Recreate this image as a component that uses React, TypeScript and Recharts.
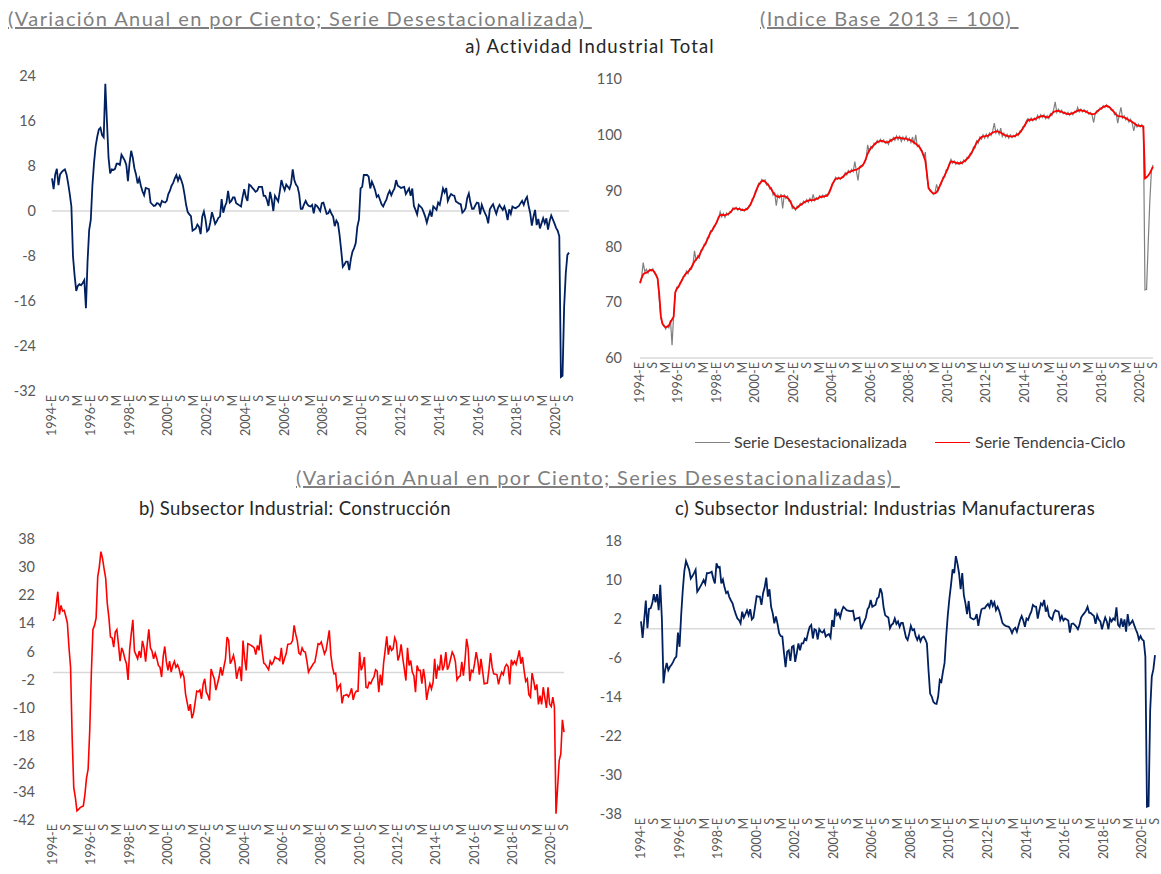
import React from 'react';
import { LineChart, Line, XAxis, YAxis, ReferenceLine } from 'recharts';

// Meses (E = enero ... D = diciembre), serie mensual desde 1994-E hasta 2020-S
const MESES = ['E', 'F', 'M', 'A', 'M', 'J', 'J', 'A', 'S', 'O', 'N', 'D'];
const ANIO_INICIO = 1994;

// a) Actividad Industrial Total, variación anual (%)
const actividadVar = [
  5.8, 3.9, 6.5, 7.5, 4.6, 6.5, 6.9, 7.2, 7.4, 6.5, 4.9, 3.0, 0.8, -8.1, -11.5, -14.2, -13.3, -13.0, -13.2, -12.8,
  -12.3, -17.3, -9.0, -3.4, -1.6, 4.5, 8.5, 11.5, 13.2, 14.5, 14.8, 13.5, 13.1, 22.6, 16.0, 9.5, 6.7, 7.4, 7.3, 7.5,
  8.4, 8.4, 8.2, 10.0, 9.5, 9.0, 8.2, 5.3, 8.5, 10.7, 9.5, 7.6, 6.5, 4.9, 5.8, 4.5, 3.5, 2.8, 4.1, 4.0,
  3.9, 1.5, 1.2, 0.9, 1.0, 1.4, 1.3, 0.9, 1.8, 1.6, 1.5, 1.8, 3.0, 3.6, 4.5, 5.0, 5.8, 6.4, 5.4, 6.2,
  5.5, 4.6, 3.0, 1.1, -0.2, -0.6, -0.9, -3.5, -3.3, -3.1, -2.4, -2.8, -4.1, -1.0, -0.1, -1.5, -3.6, -3.3, -2.0, -0.2,
  -1.2, -2.3, -1.8, -1.2, -1.0, 2.1, -0.3, 0.8, 1.5, 3.6, 1.5, 1.8, 2.4, 2.4, 1.4, 1.2, 1.0, 0.8, 2.5, 3.9,
  2.5, 1.8, 4.7, 4.5, 4.1, 3.8, 3.4, 3.6, 4.3, 4.3, 4.3, 2.7, 2.7, 2.0, 0.9, 3.4, 2.0, 0.0, 2.7, 2.2,
  1.7, 3.5, 5.5, 4.5, 3.7, 4.7, 4.3, 3.9, 4.9, 7.4, 5.5, 4.7, 4.3, 3.0, 0.4, 0.4, 1.2, 1.8, 1.2, 0.9,
  0.8, 1.1, -0.4, 1.1, 0.9, 0.5, 0.0, 1.4, 1.5, 0.5, -0.5, -0.4, 0.2, -0.5, -1.0, -2.7, -1.7, -2.2, -4.3, -7.0,
  -9.9, -9.5, -9.0, -9.0, -10.5, -8.5, -7.2, -6.6, -5.7, -2.8, -1.5, 4.0, 4.3, 6.4, 6.4, 6.4, 6.1, 4.0, 5.2, 4.5,
  3.7, 2.5, 2.8, 2.0, 1.2, 0.8, 1.5, 2.0, 3.0, 3.6, 2.8, 3.5, 4.0, 5.5, 4.5, 4.3, 4.1, 4.2, 4.3, 3.0,
  3.5, 4.0, 2.7, 4.0, 0.9, 0.2, -0.6, 1.1, 0.8, 0.5, -0.2, -1.0, -2.1, -1.0, -0.1, -1.0, 0.8, 0.5, 0.2, 1.5,
  1.1, 2.5, 4.0, 3.3, 4.1, 1.8, 2.5, 3.0, 2.8, 2.7, 1.7, 1.5, 1.3, 1.2, -0.3, 0.0, 0.5, 2.3, 3.1, 1.5,
  0.4, 0.4, 1.0, 1.5, 1.4, -0.6, 1.1, 0.3, -0.4, -1.0, -2.2, 0.3, 0.8, 1.2, 0.3, -0.5, 0.5, 1.1, 0.6, 0.2,
  0.8, -0.1, -1.6, 0.3, -0.5, 0.8, 0.6, 0.5, 0.7, 0.9, 1.4, 1.8, 1.1, 2.0, 2.5, 0.9, -0.4, -2.6, -1.0, 0.2,
  -2.5, -1.4, -3.1, -2.2, -1.3, -2.2, -1.3, -3.3, -1.8, -0.8, -1.5, -2.2, -3.0, -3.5, -4.5, -29.5, -29.3, -17.0, -11.1, -7.8,
  -7.4,
];

// Índice base 2013 = 100, serie desestacionalizada
const indiceDesest = [
  73.6, 74.5, 77.1, 75.5, 75.9, 75.2, 75.9, 75.6, 76.0, 75.2, 74.8, 74.3, 70.6, 67.2, 66.0, 65.9, 65.2, 65.8, 65.4, 66.8,
  62.3, 67.8, 71.6, 72.7, 72.6, 73.5, 73.7, 74.6, 74.7, 75.6, 75.1, 76.0, 75.9, 76.6, 79.2, 77.4, 78.3, 77.9, 79.3, 79.4,
  80.4, 80.3, 81.5, 81.6, 82.8, 82.7, 83.6, 83.7, 84.6, 85.0, 86.2, 85.3, 85.9, 85.2, 86.0, 85.6, 86.2, 86.1, 86.9, 86.6,
  87.0, 86.5, 86.9, 86.4, 86.7, 86.3, 86.8, 86.6, 87.3, 87.4, 88.5, 88.7, 89.9, 90.2, 91.3, 91.2, 92.0, 91.6, 91.9, 91.0,
  91.2, 90.3, 90.5, 89.2, 89.6, 87.3, 89.2, 88.7, 89.4, 86.8, 89.3, 88.6, 89.0, 88.1, 88.2, 86.8, 87.1, 86.5, 87.2, 87.0,
  87.7, 87.4, 88.1, 87.8, 88.4, 87.9, 88.6, 88.1, 89.3, 88.2, 88.7, 88.4, 89.1, 88.7, 89.2, 88.8, 89.3, 89.0, 89.9, 90.5,
  91.3, 91.5, 92.4, 92.0, 92.4, 92.0, 92.5, 92.4, 93.2, 92.8, 93.6, 93.2, 93.8, 93.4, 95.2, 93.5, 91.8, 94.3, 94.5, 94.4,
  95.3, 95.5, 98.2, 96.9, 97.9, 97.6, 98.5, 98.3, 99.0, 98.6, 99.2, 98.7, 99.1, 98.5, 98.9, 98.3, 99.2, 98.8, 99.5, 99.0,
  99.8, 99.1, 99.7, 98.8, 99.6, 99.0, 99.7, 98.9, 99.4, 98.6, 99.6, 98.3, 100.0, 97.9, 98.2, 97.3, 97.2, 95.9, 96.9, 92.5,
  90.6, 89.9, 89.8, 89.3, 89.6, 91.1, 90.0, 91.0, 91.2, 92.4, 92.4, 93.7, 93.7, 94.9, 95.6, 94.9, 95.3, 94.7, 95.1, 94.7,
  95.2, 94.8, 95.5, 95.2, 96.0, 95.8, 96.7, 96.6, 97.8, 97.7, 98.9, 98.5, 99.6, 99.2, 100.0, 99.4, 100.1, 99.5, 100.3, 99.9,
  100.7, 102.1, 100.3, 100.9, 100.1, 101.2, 99.7, 100.3, 99.6, 100.1, 99.4, 100.0, 99.5, 99.9, 99.6, 100.3, 99.9, 100.7, 100.6, 101.5,
  101.5, 102.5, 102.9, 102.4, 103.0, 102.5, 103.0, 102.6, 103.5, 102.9, 103.6, 103.1, 103.6, 102.9, 103.4, 102.9, 103.8, 103.5, 104.5, 105.9,
  104.0, 104.6, 104.0, 104.4, 103.8, 104.1, 103.6, 104.0, 103.5, 104.0, 103.6, 104.2, 104.0, 104.9, 104.1, 104.6, 104.1, 104.5, 104.0, 104.3,
  103.7, 104.0, 103.5, 102.2, 103.9, 104.3, 104.2, 104.8, 104.6, 105.2, 104.9, 105.4, 104.9, 105.0, 104.4, 104.5, 103.6, 103.9, 102.1, 103.6,
  104.9, 103.0, 103.4, 102.7, 103.1, 102.3, 102.8, 102.1, 100.7, 102.0, 101.4, 101.9, 101.4, 101.8, 101.0, 72.2, 72.3, 80.5, 88.0, 93.5,
  94.6,
];

// Índice base 2013 = 100, serie tendencia-ciclo
const indiceTendencia = [
  73.4, 74.3, 75.0, 75.2, 75.3, 75.5, 75.7, 75.8, 75.7, 75.4, 74.9, 74.2, 71.5, 67.5, 66.2, 65.7, 65.5, 65.6, 65.8, 66.4,
  66.9, 67.4, 71.8, 72.4, 72.8, 73.3, 73.9, 74.4, 74.9, 75.2, 75.5, 75.8, 76.2, 76.8, 77.3, 77.7, 78.0, 78.4, 79.0, 79.6,
  80.1, 80.6, 81.2, 81.9, 82.5, 82.9, 83.4, 83.9, 84.4, 85.2, 85.6, 85.7, 85.6, 85.6, 85.7, 85.8, 86.0, 86.3, 86.7, 86.8,
  86.8, 86.7, 86.7, 86.6, 86.5, 86.5, 86.6, 86.8, 87.1, 87.6, 88.2, 88.9, 89.6, 90.4, 91.0, 91.4, 91.7, 91.8, 91.6, 91.3,
  91.0, 90.6, 90.2, 89.7, 89.3, 89.0, 88.9, 88.9, 89.0, 89.0, 89.0, 88.9, 88.7, 88.4, 87.9, 87.3, 86.9, 86.7, 86.9, 87.2,
  87.4, 87.6, 87.8, 88.0, 88.1, 88.2, 88.3, 88.3, 88.3, 88.4, 88.5, 88.6, 88.8, 88.9, 88.9, 89.0, 89.0, 89.2, 89.6, 90.3,
  91.1, 91.7, 92.1, 92.2, 92.2, 92.2, 92.3, 92.6, 92.9, 93.1, 93.3, 93.4, 93.5, 93.6, 93.7, 93.7, 93.9, 94.1, 94.3, 94.6,
  95.0, 95.8, 96.6, 97.2, 97.6, 97.9, 98.2, 98.5, 98.7, 98.8, 98.9, 98.9, 98.8, 98.7, 98.6, 98.7, 98.9, 99.1, 99.2, 99.4,
  99.5, 99.5, 99.5, 99.4, 99.3, 99.3, 99.3, 99.2, 99.1, 99.0, 98.8, 98.6, 98.4, 98.1, 97.9, 97.5, 96.9, 96.2, 95.3, 93.0,
  90.4, 90.1, 89.7, 89.5, 89.5, 89.7, 90.2, 90.8, 91.5, 92.1, 92.7, 93.3, 94.0, 94.7, 95.2, 95.2, 95.1, 95.0, 94.9, 94.9,
  94.9, 95.0, 95.2, 95.4, 95.7, 96.0, 96.4, 96.9, 97.4, 98.0, 98.6, 98.9, 99.3, 99.6, 99.7, 99.7, 99.8, 99.8, 100.0, 100.2,
  100.4, 100.5, 100.6, 100.6, 100.5, 100.4, 100.2, 100.0, 99.9, 99.8, 99.7, 99.7, 99.7, 99.7, 99.8, 100.0, 100.1, 100.4, 100.8, 101.2,
  101.7, 102.2, 102.6, 102.7, 102.7, 102.7, 102.8, 102.9, 103.1, 103.2, 103.3, 103.4, 103.3, 103.2, 103.1, 103.2, 103.5, 103.8, 104.1, 104.2,
  104.3, 104.3, 104.2, 104.1, 104.0, 103.9, 103.8, 103.7, 103.7, 103.8, 103.9, 104.0, 104.2, 104.3, 104.4, 104.4, 104.3, 104.3, 104.2, 104.0,
  103.9, 103.8, 103.7, 103.7, 103.8, 104.1, 104.4, 104.6, 104.8, 105.0, 105.1, 105.2, 105.1, 104.9, 104.6, 104.3, 104.0, 103.6, 103.4, 103.3,
  103.3, 103.2, 103.1, 103.0, 102.8, 102.6, 102.5, 102.3, 102.1, 101.9, 101.7, 101.6, 101.6, 101.6, 101.5, 92.2, 92.4, 92.7, 93.1, 93.7,
  94.3,
];

// b) Construcción, variación anual (%)
const construccionVar = [
  14.7, 15.5, 19.0, 23.0, 16.5, 19.1, 17.5, 17.7, 16.0, 14.1, 7.2, 1.5, -18.5, -32.8, -35.6, -39.4, -39.0, -38.5, -38.2, -38.0,
  -34.7, -30.0, -27.5, -16.6, -0.4, 12.2, 13.4, 15.5, 27.2, 30.0, 34.4, 32.5, 29.5, 26.8, 19.6, 15.6, 10.1, 9.9, 7.2, 11.5,
  12.2, 8.0, 3.2, 7.0, 5.8, 3.9, 2.5, -2.1, 6.5, 11.0, 15.0, 6.1, 5.0, 3.9, 6.1, 4.2, 9.0, 7.0, 3.1, 8.0,
  12.3, 7.0, 6.1, 3.9, 5.5, 4.0, 2.0, 1.5, -1.3, 4.5, 7.4, 3.0, 0.6, 3.2, 0.1, 2.0, 3.2, 1.5, 2.2, 1.0,
  -1.1, 0.1, -1.3, -6.1, -8.5, -10.9, -9.0, -13.0, -11.6, -8.5, -5.3, -5.5, -5.0, -7.5, -3.4, -1.8, -5.6, -6.5, -8.0, 1.0,
  -0.5, -1.8, -5.0, -3.2, -1.3, 1.5, -0.9, 1.5, 3.9, 10.1, 9.1, 2.5, 3.5, 4.9, 2.7, -1.8, 0.5, 1.7, -2.5, 9.1,
  4.0, 0.6, 8.2, 8.0, 7.7, 7.4, 7.0, 5.1, 7.7, 6.3, 10.8, 6.1, 2.7, 2.3, 1.5, 0.8, 3.2, 2.3, 3.0, 4.4,
  4.0, 3.9, 3.4, 7.0, 2.3, 4.0, 5.3, 8.0, 8.1, 8.2, 9.1, 13.4, 10.9, 9.0, 5.5, 5.1, 7.0, 6.0, 5.8, 3.2,
  0.1, 1.0, 1.7, 2.5, 3.0, 5.5, 8.2, 8.0, 8.7, 7.0, 5.3, 6.3, 9.1, 12.0, 5.0, 1.5, -0.4, -0.2, -5.0, -4.0,
  -3.4, -8.8, -6.6, -6.5, -6.3, -6.9, -6.0, -4.5, -7.8, -6.0, -5.3, -5.3, 5.8, 0.6, 2.0, 4.4, -4.2, -4.4, -2.8, -3.2,
  -2.0, -1.3, 0.8, 0.4, -5.6, -0.6, -3.7, 2.5, 6.3, 10.3, 5.1, 7.7, 6.3, 6.8, 9.9, 8.7, 3.4, 4.9, 8.0, 4.2,
  1.0, -2.3, 7.0, 2.0, 3.4, 0.1, -0.9, -5.6, 2.0, 0.6, 0.6, -3.2, 1.0, -2.0, -7.8, -5.0, -3.2, -4.7, -2.8, 3.9,
  -1.8, 1.7, 0.6, 5.1, 0.6, 2.0, 5.8, 0.8, 2.0, 3.9, 5.8, 4.9, 3.0, -2.1, -1.3, -1.0, 3.0, -0.9, 3.4, 9.6,
  6.8, -2.5, 0.6, 0.1, 2.5, 5.8, 3.4, -0.6, 3.9, 0.5, -3.2, -3.1, -3.0, 0.8, 5.5, 1.5, -0.4, -0.5, -0.6, -3.4,
  -1.3, 0.1, -0.6, 1.5, 2.3, 1.7, -3.4, 3.6, 2.3, 3.2, 2.3, 4.2, 6.3, 2.5, 4.4, 0.6, -2.5, -1.8, -6.3, -7.0,
  -0.2, -2.3, -5.0, -3.4, -9.1, -6.6, -9.1, -4.2, -7.2, -10.1, -4.2, -9.0, -9.7, -7.0, -9.9, -40.2, -32.8, -25.1, -23.2, -13.5,
  -17.0,
];

// c) Industrias Manufactureras, variación anual (%)
const manufacturasVar = [
  1.5, -1.9, 1.9, 5.8, 0.1, 4.1, 4.2, 5.2, 7.1, 5.4, 7.1, 3.8, 9.0, 2.1, -11.2, -8.5, -7.0, -8.5, -7.8, -7.4,
  -6.8, -6.1, -5.7, -0.8, -3.7, 2.8, 7.9, 11.9, 13.9, 13.0, 12.1, 10.3, 10.8, 11.4, 12.1, 7.6, 8.1, 8.7, 9.3, 10.0,
  9.2, 11.4, 11.4, 11.5, 11.7, 10.3, 9.3, 13.4, 12.6, 12.7, 9.3, 10.1, 8.5, 7.3, 7.6, 6.5, 5.8, 5.2, 4.0, 3.0,
  2.1, 1.8, 1.1, 3.5, 2.3, 3.0, 3.8, 2.8, 4.0, 1.9, 2.3, 4.5, 6.7, 6.6, 6.6, 4.9, 7.3, 8.5, 10.5, 6.6,
  8.1, 4.5, 3.2, 1.1, 2.5, 1.0, -0.9, -1.5, -1.6, -4.9, -7.9, -4.7, -4.4, -6.6, -3.7, -3.5, -6.8, -5.0, -3.0, -4.4,
  -3.0, -3.0, -2.0, -2.3, -0.8, 0.4, 0.8, -2.0, -0.1, -0.3, -2.2, -0.1, -0.6, -0.8, -0.3, -1.6, -1.3, -1.1, -1.8, 1.8,
  0.4, 4.1, 2.8, 3.2, 2.3, 3.7, 4.5, 4.2, 3.8, 3.7, 3.6, 3.6, 3.7, 1.8, 2.1, 2.2, 2.3, -0.1, 0.8, 1.5,
  2.3, 4.0, 4.5, 5.9, 4.5, 4.7, 4.9, 6.2, 6.5, 8.3, 7.3, 4.5, 2.8, 2.5, 2.3, 0.1, 0.8, 1.1, 2.1, 1.0,
  1.5, 0.4, 1.2, 1.2, -0.3, -1.8, -2.3, -1.0, 0.6, -0.3, -0.1, -1.5, -2.3, -1.5, -2.6, -1.8, -1.6, -2.2, -3.0, -8.5,
  -13.3, -13.9, -15.0, -15.3, -15.4, -13.9, -10.5, -10.9, -8.8, -7.0, -1.6, 2.8, 6.2, 9.0, 12.2, 11.4, 14.9, 13.4, 11.4, 8.1,
  11.4, 6.9, 5.2, 3.0, 5.7, 2.3, 2.1, 1.9, 2.1, 3.0, 0.6, 2.5, 4.0, 4.2, 4.2, 4.7, 5.1, 4.4, 5.9, 4.7,
  5.4, 3.8, 4.5, 3.7, 2.5, 1.2, 0.8, 0.6, 0.5, 0.4, -0.1, -0.9, -0.1, 0.2, -0.6, 0.6, 1.8, 2.6, 1.7, 0.4,
  2.1, 1.8, 2.8, 3.5, 4.9, 4.6, 4.5, 2.1, 3.8, 5.2, 4.8, 5.9, 3.5, 4.4, 2.6, 2.2, 1.9, 3.2, 3.8, 3.6,
  3.5, 1.8, 2.6, 1.7, 2.1, 1.9, 1.7, -0.8, 1.0, 1.1, 0.8, 0.4, -0.1, 0.8, 2.3, 2.8, 3.2, 3.7, 4.5, 3.3,
  3.2, 2.9, 2.6, 1.0, 2.8, 1.9, 1.5, -0.1, 1.2, 2.3, 1.5, -0.1, 2.1, 1.5, 2.1, 1.8, 4.4, 0.8, 0.4, 2.1,
  0.4, 1.9, -0.6, 3.0, 0.8, 1.2, 1.7, 0.8, -0.1, -0.9, -2.2, -1.5, -2.2, -2.5, -5.7, -36.5, -36.4, -16.7, -9.8, -8.3,
  -5.4,
];

const ticksA = [-32, -24, -16, -8, 0, 8, 16, 24];
const ticksIndice = [60, 70, 80, 90, 100, 110];
const ticksConstruccion = [-42, -34, -26, -18, -10, -2, 6, 14, 22, 30, 38];
const ticksManufacturas = [-38, -30, -22, -14, -6, 2, 10, 18];

const etiquetas = actividadVar.map((_, i) =>
  i % 12 === 0 ? `${ANIO_INICIO + i / 12}-E` : MESES[i % 12]
);

const data = etiquetas.map((label, i) => ({
  label,
  actividad: actividadVar[i],
  desest: indiceDesest[i],
  tendencia: indiceTendencia[i],
  construccion: construccionVar[i],
  manufacturas: manufacturasVar[i],
}));

const FONT = 'Lato, "Open Sans", sans-serif';
const AZUL = '#002060';
const ROJO = '#FF0000';
const GRIS = '#7F7F7F';
const TEXTO = '#595959';

// Etiqueta vertical del eje X
const XTick = ({ x, y, payload }: any) => (
  <text
    x={x - 0.5}
    y={y}
    transform={`rotate(-90 ${x - 0.5} ${y})`}
    textAnchor="end"
    dominantBaseline="central"
    fontSize={12.5}
    fontFamily={FONT}
    fill={TEXTO}
  >
    {payload.value}
  </text>
);

const yTick = { fill: TEXTO, fontSize: 14.5, fontFamily: FONT };

const abs = (left: number, top: number): React.CSSProperties => ({
  position: 'absolute',
  left,
  top,
});

const encabezado: React.CSSProperties = {
  position: 'absolute',
  fontFamily: FONT,
  fontSize: 20,
  lineHeight: '22px',
  letterSpacing: 1.4,
  color: GRIS,
  textDecoration: 'underline',
  whiteSpace: 'pre',
};

const subtitulo: React.CSSProperties = {
  position: 'absolute',
  fontFamily: FONT,
  fontSize: 18.5,
  lineHeight: '22px',
  letterSpacing: 0.4,
  color: '#262626',
  textAlign: 'center',
  whiteSpace: 'nowrap',
};

const leyendaTexto: React.CSSProperties = {
  position: 'absolute',
  top: 432,
  fontFamily: FONT,
  fontSize: 16,
  lineHeight: '20px',
  color: '#404040',
  whiteSpace: 'nowrap',
};

export default function App() {
  return (
    <div style={{ position: 'absolute', left: 0, top: 0, width: 1161, height: 874, background: '#fff' }}>
      <div style={{ ...encabezado, left: 8, top: 7 }}>
        {'(Variación Anual en por Ciento; Serie Desestacionalizada) '}
      </div>
      <div style={{ ...encabezado, left: 760, top: 7 }}>{'(Indice Base 2013 = 100) '}</div>
      <div style={{ ...subtitulo, left: 390, top: 35, width: 400, letterSpacing: 1.1 }}>a) Actividad Industrial Total</div>

      {/* a) variación anual */}
      <div style={abs(0, 60)}>
        <LineChart width={580} height={390} data={data} margin={{ top: 16, right: 11, bottom: 0, left: 0 }}>
          <XAxis dataKey="label" interval={7} tick={<XTick />} tickLine={false} axisLine={false} tickSize={0} tickMargin={4} height={59} />
          <YAxis domain={[-32, 24]} ticks={ticksA} interval={0} width={52} tick={yTick} tickLine={false} axisLine={false} tickSize={0} tickMargin={16} />
          <ReferenceLine y={0} stroke="#D9D9D9" strokeWidth={1.5} />
          <Line type="linear" dataKey="actividad" stroke={AZUL} strokeWidth={1.8} dot={false} isAnimationActive={false} />
        </LineChart>
      </div>

      {/* a) índice */}
      <div style={abs(590, 60)}>
        <LineChart width={570} height={382} data={data} margin={{ top: 19, right: 7, bottom: 0, left: 0 }}>
          <XAxis dataKey="label" interval={7} tick={<XTick />} tickLine={false} axisLine={{ stroke: '#D9D9D9', strokeWidth: 1.5 }} tickSize={0} tickMargin={4} height={84} />
          <YAxis domain={[60, 110]} ticks={ticksIndice} interval={0} width={50} tick={yTick} tickLine={false} axisLine={false} tickSize={0} tickMargin={18} />
          <Line type="linear" dataKey="desest" stroke={GRIS} strokeWidth={1.2} dot={false} isAnimationActive={false} />
          <Line type="linear" dataKey="tendencia" stroke={ROJO} strokeWidth={1.8} dot={false} isAnimationActive={false} />
        </LineChart>
      </div>

      {/* leyenda */}
      <div style={{ position: 'absolute', left: 695, top: 442, width: 35, borderTop: `1.5px solid ${GRIS}` }} />
      <div style={{ ...leyendaTexto, left: 734 }}>Serie Desestacionalizada</div>
      <div style={{ position: 'absolute', left: 935, top: 442, width: 35, borderTop: `1.5px solid ${ROJO}` }} />
      <div style={{ ...leyendaTexto, left: 975 }}>Serie Tendencia-Ciclo</div>

      <div style={{ ...encabezado, left: 296, top: 466 }}>
        {'(Variación Anual en por Ciento; Series Desestacionalizadas) '}
      </div>
      <div style={{ ...subtitulo, left: 95, top: 497, width: 400 }}>b) Subsector Industrial: Construcción</div>
      <div style={{ ...subtitulo, left: 635, top: 497, width: 500 }}>c) Subsector Industrial: Industrias Manufactureras</div>

      {/* b) construcción */}
      <div style={abs(0, 525)}>
        <LineChart width={575} height={349} data={data} margin={{ top: 14, right: 11, bottom: 0, left: 0 }}>
          <XAxis dataKey="label" interval={7} tick={<XTick />} tickLine={false} axisLine={false} tickSize={0} tickMargin={4} height={54} />
          <YAxis domain={[-42, 38]} ticks={ticksConstruccion} interval={0} width={53} tick={yTick} tickLine={false} axisLine={false} tickSize={0} tickMargin={18} />
          <ReferenceLine y={0} stroke="#D9D9D9" strokeWidth={1.5} />
          <Line type="linear" dataKey="construccion" stroke={ROJO} strokeWidth={1.6} dot={false} isAnimationActive={false} />
        </LineChart>
      </div>

      {/* c) manufacturas */}
      <div style={abs(590, 525)}>
        <LineChart width={571} height={349} data={data} margin={{ top: 16, right: 6, bottom: 0, left: 0 }}>
          <XAxis dataKey="label" interval={7} tick={<XTick />} tickLine={false} axisLine={false} tickSize={0} tickMargin={4} height={60} />
          <YAxis domain={[-38, 18]} ticks={ticksManufacturas} interval={0} width={51} tick={yTick} tickLine={false} axisLine={false} tickSize={0} tickMargin={19} />
          <ReferenceLine y={0} stroke="#D9D9D9" strokeWidth={1.5} />
          <Line type="linear" dataKey="manufacturas" stroke={AZUL} strokeWidth={1.8} dot={false} isAnimationActive={false} />
        </LineChart>
      </div>
    </div>
  );
}
